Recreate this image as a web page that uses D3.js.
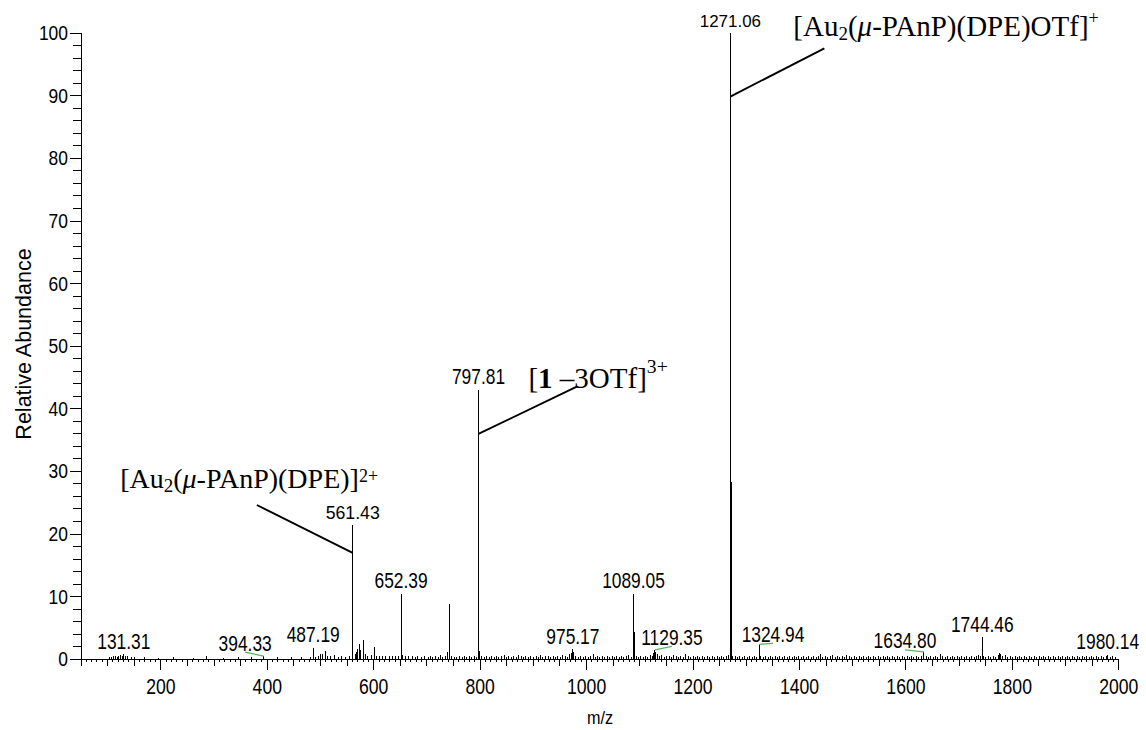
<!DOCTYPE html>
<html>
<head>
<meta charset="utf-8">
<script src="https://cdn.jsdelivr.net/npm/d3@7"></script>
<style>
  html, body { margin: 0; padding: 0; background: #fff; }
  svg { display: block; }
</style>
</head>
<body>
<svg id="chart" width="1146" height="730"></svg>
<script>
// ---------- data ----------
// Prominent ions: m/z and relative abundance (%)
const peakMz        = [131.31, 394.33, 487.19, 509.7, 561.43, 569.0, 574.0, 581.6, 601.7, 652.39, 742.9, 797.81, 800.1, 975.17, 1089.05, 1090.05, 1129.35, 1271.06, 1272.9, 1324.94, 1634.80, 1744.46, 1980.14];
const peakAbundance = [0.7,    0.4,    1.7,    1.3,   21.4,   1.1,   2.3,   3.0,   1.8,   10.4,   8.8,   43.0,   1.3,   1.5,    10.4,    4.2,     1.4,     100.0,   28.2,   2.3,     1.1,     3.4,     0.6];

// Low-level baseline signals [m/z, relative abundance %]
const baselinePeaks = [
  [104,0.3],[109,0.2],[112,0.4],[116,0.5],[119,0.3],[122,0.4],[126,0.6],[129,0.4],[134,0.5],[138,0.4],[145,0.3],[152,0.3],
  [171,0.2],[196,0.15],[225,0.2],[262,0.15],[287,0.4],[318,0.15],[346,0.2],[372,0.2],[421,0.2],[447,0.3],[466,0.25],
  [483,0.3],[492,0.3],[498,0.5],[501,0.8],[505,0.8],[514,0.5],[520,0.4],[527,0.6],[534,0.3],[541,0.4],[548,0.3],[555,0.5],
  [566,0.8],[571,1.6],[577,1.4],[585,0.7],[590,0.5],[596,0.6],[606,0.4],[612,0.5],[618,0.4],[624,0.5],[630,0.4],[636,0.5],
  [642,0.4],[648,0.5],[655,0.6],[660,0.4],[667,0.4],[673,0.5],[679,0.3],[684,0.5],[690,0.3],[697,0.4],
  [703,0.3],[708,0.5],[712,0.2],[717,0.4],[722,0.3],[726,0.6],[731,0.2],[736,0.4],[740,1.1],[748,0.5],[753,0.3],[757,0.2],
  [762,0.5],[767,0.3],[771,0.4],[776,0.2],[781,0.5],[785,0.3],[790,0.4],[794,0.3],[804,0.4],[809,0.3],[813,0.5],[818,0.2],
  [823,0.4],[827,0.3],[832,0.5],[836,0.2],[841,0.4],[846,0.6],[850,0.3],[855,0.4],[860,0.2],[864,0.5],[869,0.3],[873,0.6],
  [878,0.4],[883,0.3],[887,0.5],[892,0.2],[896,0.4],[901,0.3],[906,0.5],[910,0.3],[915,0.6],[919,0.2],[924,0.4],[929,0.5],
  [933,0.3],[938,0.4],[942,0.2],[947,0.5],[951,0.3],[956,0.6],[961,0.4],[965,0.3],[969,0.7],[972,0.9],[977,1.0],[981,0.5],
  [986,0.3],[990,0.4],[995,0.2],[999,0.5],
  [1004,0.3],[1008,0.4],[1013,0.8],[1017,0.3],[1022,0.5],[1026,0.2],[1031,0.4],[1035,0.3],[1040,0.5],[1044,0.3],[1049,0.4],
  [1053,0.2],[1058,0.5],[1062,0.3],[1067,0.4],[1071,0.3],[1076,0.5],[1080,0.6],[1085,0.3],[1094,0.5],[1098,0.3],[1103,0.4],
  [1107,0.2],[1112,0.5],[1116,0.3],[1121,0.6],[1125,0.5],[1127,0.9],[1131,1.1],[1134,0.7],[1138,0.4],[1142,0.6],[1147,0.3],
  [1151,0.5],[1156,0.4],[1160,0.3],[1165,0.6],[1169,0.4],[1174,0.3],[1178,0.5],[1183,0.3],[1187,0.7],[1192,0.4],[1196,0.3],
  [1201,0.5],[1205,0.2],[1210,0.4],[1214,0.3],[1219,0.5],[1223,0.2],[1228,0.4],[1232,0.3],[1237,0.5],[1241,0.3],[1246,0.4],
  [1250,0.2],[1255,0.5],[1259,0.3],[1264,0.4],[1268,0.6],[1276,0.5],[1280,0.4],[1285,0.3],[1289,0.5],[1294,0.2],[1298,0.4],
  [1303,0.3],[1307,0.5],[1312,0.2],[1316,0.4],[1321,0.3],[1328,0.4],[1333,0.3],[1337,0.5],[1342,0.2],[1346,0.4],[1351,0.3],
  [1355,0.5],[1360,0.2],[1364,0.4],[1369,0.3],[1373,0.5],[1378,0.3],[1382,0.4],[1387,0.2],[1391,0.5],[1396,0.3],[1400,0.4],
  [1405,0.3],[1409,0.5],[1414,0.2],[1418,0.4],[1423,0.3],[1427,0.5],[1432,0.3],[1436,0.4],[1441,0.7],[1445,0.3],[1450,0.5],
  [1454,0.2],[1459,0.4],[1463,0.6],[1468,0.3],[1472,0.5],[1477,0.2],[1481,0.4],[1486,0.3],[1490,0.6],[1495,0.4],[1499,0.3],
  [1504,0.5],[1508,0.2],[1513,0.4],[1517,0.3],[1522,0.5],[1526,0.3],[1531,0.4],[1535,0.2],[1540,0.5],[1544,0.3],[1549,0.4],
  [1553,0.2],[1558,0.5],[1562,0.3],[1567,0.4],[1571,0.3],[1576,0.5],[1580,0.2],[1585,0.4],[1589,0.3],[1594,0.5],[1598,0.3],
  [1603,0.4],[1607,0.2],[1612,0.5],[1616,0.3],[1621,0.4],[1625,0.3],[1630,0.5],[1639,0.4],[1643,0.3],[1648,0.5],[1652,0.2],
  [1657,0.4],[1661,0.3],[1666,0.8],[1670,0.4],[1675,0.3],[1679,0.5],[1684,0.2],[1688,0.4],[1693,0.3],[1697,0.5],[1702,0.3],
  [1706,0.4],[1711,0.2],[1715,0.5],[1720,0.3],[1724,0.4],[1729,0.3],[1733,0.5],[1738,0.6],[1742,0.4],[1747,0.5],[1751,0.3],
  [1756,0.4],[1760,0.2],[1765,0.5],[1769,0.3],[1774,0.6],[1777,0.9],[1779,0.7],[1783,0.4],[1788,0.6],[1792,0.3],[1797,0.4],
  [1801,0.2],[1806,0.5],[1810,0.3],[1815,0.4],[1819,0.2],[1824,0.5],[1828,0.3],[1833,0.4],[1837,0.2],[1842,0.5],[1846,0.3],
  [1851,0.4],[1855,0.2],[1860,0.5],[1864,0.3],[1869,0.4],[1873,0.2],[1878,0.5],[1882,0.3],[1887,0.4],[1891,0.2],[1896,0.5],
  [1900,0.3],[1905,0.4],[1909,0.2],[1914,0.5],[1918,0.3],[1923,0.4],[1927,0.2],[1932,0.5],[1936,0.3],[1941,0.4],[1945,0.2],
  [1950,0.5],[1954,0.3],[1959,0.4],[1963,0.2],[1968,0.5],[1972,0.3],[1977,0.4],[1985,0.3],[1990,0.4],[1995,0.2]
];

// Peaks that carry an m/z label
const labelMz = [131.31, 394.33, 487.19, 561.43, 652.39, 797.81, 975.17, 1089.05, 1129.35, 1271.06, 1324.94, 1634.80, 1744.46, 1980.14];

// Axis tick labels
const xTickLabels = [200, 400, 600, 800, 1000, 1200, 1400, 1600, 1800, 2000];
const yTickLabels = [0, 10, 20, 30, 40, 50, 60, 70, 80, 90, 100];

// Ion assignments: text pieces, anchor (m/z, %), leader from (m/z, %) to a peak at (m/z, %)
const ionAnnotations = [
  { pieces: [["[Au"], ["2","sub"], ["("], ["μ","it"], ["-PAnP)(DPE)OTf]"], ["+","sup"]],
    at: [1389.3, 99.4], from: [1447.7, 97.5], to: [1271.06, 89.8] },
  { pieces: [["["], ["1","b"], [" –3OTf]"], ["3+","sup"]],
    at: [891.6, 43.3], from: [982.5, 43.45], to: [797.81, 35.9] },
  { pieces: [["[Au"], ["2","sub"], ["("], ["μ","it"], ["-PAnP)(DPE)]"], ["2+","sup"]],
    at: [124.5, 27.3], from: [381.4, 24.55], to: [561.43, 16.9] }
];

// ---------- layout ----------
const svg = d3.select("#chart");
const SANS = "'Liberation Sans', Arial, Helvetica, sans-serif";
const SERIF = "'Liberation Serif', 'Times New Roman', Times, serif";

const x = d3.scaleLinear().domain([50, 2000]).range([80.5, 1118.3]);
const y = d3.scaleLinear().domain([0, 100]).range([658.7, 32.7]);

// ---------- axes ----------
const xAxisG = svg.append("g").attr("transform", `translate(0,${y(0)})`);
xAxisG.append("g")
  .call(d3.axisBottom(x).tickValues(d3.range(50, 2001, 10)).tickSize(3.5).tickSizeOuter(0).tickFormat(""));
xAxisG.append("g")
  .call(d3.axisBottom(x).tickValues(d3.range(50, 2001, 50)).tickSize(7).tickSizeOuter(0).tickFormat(""))
  .select(".domain").remove();
const xMajor = xAxisG.append("g")
  .call(d3.axisBottom(x).tickValues(xTickLabels).tickSize(11).tickSizeOuter(0).tickFormat(d => d));
xMajor.select(".domain").remove();
xMajor.selectAll("text")
  .attr("y", 0).attr("dy", 0)
  .attr("transform", "translate(0,35.3) scale(0.8,1)")
  .style("font-family", SANS).style("font-size", "22px").attr("fill", "#000");

const yAxisG = svg.append("g").attr("transform", `translate(${x(50)},0)`);
yAxisG.append("g")
  .call(d3.axisLeft(y).tickValues(d3.range(0, 101, 2)).tickSize(8).tickSizeOuter(0).tickFormat(""));
const yMajor = yAxisG.append("g")
  .call(d3.axisLeft(y).tickValues(yTickLabels).tickSize(11).tickSizeOuter(0).tickFormat(d => d));
yMajor.select(".domain").remove();
yMajor.selectAll("text")
  .attr("x", 0).attr("dy", "0.36em")
  .attr("transform", "translate(-12.5,0) scale(0.89,1)")
  .style("font-family", SANS).style("font-size", "19.6px").attr("fill", "#000");

svg.selectAll(".tick line, .domain")
  .attr("stroke", "#000").attr("stroke-width", 1).attr("shape-rendering", "crispEdges");

// Axis titles
svg.append("text")
  .attr("transform", "translate(600,724) scale(0.9,1)")
  .attr("text-anchor", "middle")
  .style("font-family", SANS).style("font-size", "18px")
  .text("m/z");
svg.append("text")
  .attr("transform", "translate(30.5,344) rotate(-90)")
  .attr("text-anchor", "middle")
  .style("font-family", SANS).style("font-size", "21.5px")
  .text("Relative Abundance");

// ---------- spectrum sticks ----------
const sticks = svg.append("g").attr("stroke", "#000").attr("shape-rendering", "crispEdges");
sticks.selectAll("line.noise")
  .data(baselinePeaks)
  .join("line").attr("class", "noise")
  .attr("x1", d => x(d[0])).attr("x2", d => x(d[0]))
  .attr("y1", y(0)).attr("y2", d => y(d[1]))
  .attr("stroke-width", 1);
const peaks = peakMz.map((m, i) => ({ mz: m, ab: peakAbundance[i] }));
sticks.selectAll("line.peak")
  .data(peaks)
  .join("line").attr("class", "peak")
  .attr("x1", d => x(d.mz)).attr("x2", d => x(d.mz))
  .attr("y1", y(0)).attr("y2", d => y(d.ab))
  .attr("stroke-width", d => d.ab >= 99 ? 1.6 : 1);

// ---------- m/z labels ----------
// offset labels (dx px, gap px) are joined to their stick by a short green leader
const labelOffset = { "394.33": [-18.6, 5.6], "1129.35": [17, 5], "1324.94": [14, 2.5], "1634.80": [-19, 3.5] };
const labelFont = { "1271.06": [16.3, 1.04], "561.43": [17.7, 1.0] };
const labels = labelMz.map(m => {
  const p = peaks.find(d => d.mz === m);
  const txt = m.toFixed(2);
  const off = labelOffset[txt] || [0, 5.7];
  const font = labelFont[txt] || [21.7, 0.8];
  return { txt, px: x(m), py: y(p.ab), cx: x(m) + off[0], by: y(p.ab) - off[1], shifted: !!labelOffset[txt], size: font[0], sx: font[1] };
});
svg.append("g").selectAll("line")
  .data(labels.filter(d => d.shifted))
  .join("line")
  .attr("x1", d => d.cx).attr("y1", d => d.by + 1.5)
  .attr("x2", d => d.px).attr("y2", d => d.py)
  .attr("stroke", "#55b85a").attr("stroke-width", 1.2);
svg.append("g").selectAll("text")
  .data(labels)
  .join("text")
  .attr("transform", d => `translate(${d.cx},${d.by}) scale(${d.sx},1)`)
  .attr("text-anchor", "middle")
  .style("font-family", SANS)
  .style("font-size", d => d.size + "px")
  .text(d => d.txt);

// ---------- ion assignments ----------
const supStyle = [
  { size: 18, rise: 12.5 },
  { size: 19.7, rise: 14.8 },
  { size: 18, rise: 5.5 }
];
const sizes = [29, 29, 28];
ionAnnotations.forEach((a, i) => {
  svg.append("line")
    .attr("x1", x(a.from[0])).attr("y1", y(a.from[1]))
    .attr("x2", x(a.to[0])).attr("y2", y(a.to[1]))
    .attr("stroke", "#000").attr("stroke-width", 1.9);
  const t = svg.append("text")
    .attr("x", x(a.at[0])).attr("y", y(a.at[1]))
    .style("font-family", SERIF).style("font-size", sizes[i] + "px");
  let shift = 0;
  a.pieces.forEach(([s, kind]) => {
    const ts = t.append("tspan").text(s);
    let target = 0;
    if (kind === "sub") { target = 4; ts.style("font-size", "19px"); }
    else if (kind === "sup") { target = -supStyle[i].rise; ts.style("font-size", supStyle[i].size + "px"); }
    else if (kind === "it") ts.style("font-style", "italic");
    else if (kind === "b") ts.style("font-weight", "bold");
    if (target !== shift) { ts.attr("dy", target - shift); shift = target; }
  });
});
</script>
</body>
</html>
